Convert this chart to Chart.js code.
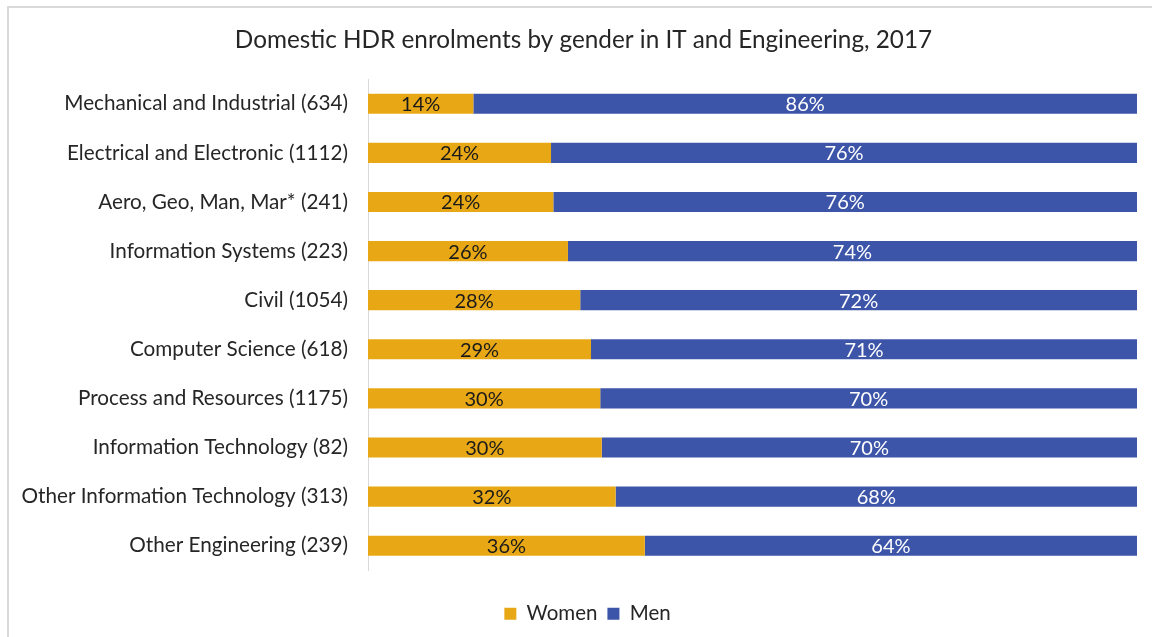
<!DOCTYPE html>
<html>
<head>
<meta charset="utf-8">
<script src="https://cdn.jsdelivr.net/npm/chart.js@4.4.0/dist/chart.umd.min.js"></script>
<style>
  html, body { margin: 0; padding: 0; background: #fff; }
  #wrap { width: 1152px; height: 637px; }
</style>
</head>
<body>
<div id="wrap"><canvas id="hdrChart" width="1152" height="637"></canvas></div>
<script>
// campos de estudio (de arriba hacia abajo)
const categorias = [
  "Mechanical and Industrial (634)",
  "Electrical and Electronic (1112)",
  "Aero, Geo, Man, Mar* (241)",
  "Information Systems (223)",
  "Civil (1054)",
  "Computer Science (618)",
  "Process and Resources (1175)",
  "Information Technology (82)",
  "Other Information Technology (313)",
  "Other Engineering (239)"
];

// porcentajes
const mujeres = [13.7, 23.8, 24.1, 26.0, 27.6, 29.0, 30.2, 30.4, 32.2, 36.0];
const hombres = [86.3, 76.2, 75.9, 74.0, 72.4, 71.0, 69.8, 69.6, 67.8, 64.0];

const fuente = "Lato, 'Open Sans', sans-serif";

// etiquetas dentro de las barras
const etiquetasBarras = {
  id: "etiquetasBarras",
  afterDatasetsDraw(chart) {
    const ctx = chart.ctx;
    ctx.save();
    ctx.font = "20px " + fuente;
    ctx.textAlign = "center";
    ctx.textBaseline = "middle";
    chart.data.datasets.forEach((ds, i) => {
      const meta = chart.getDatasetMeta(i);
      meta.data.forEach((bar, j) => {
        const x = (bar.x + bar.base) / 2;
        ctx.fillStyle = i === 0 ? "#1a1a1a" : "#ffffff";
        ctx.fillText(Math.round(ds.data[j]) + "%", x, bar.y + 1);
      });
    });
    ctx.restore();
  }
};

// marco gris del area del grafico
const marco = {
  id: "marco",
  beforeDraw(chart) {
    const ctx = chart.ctx;
    ctx.save();
    ctx.strokeStyle = "#d9d9d9";
    ctx.lineWidth = 2;
    ctx.strokeRect(8, 7, 1200, 700);
    ctx.restore();
  }
};

// mover titulo y leyenda un poco a la derecha
const moverBloques = {
  id: "moverBloques",
  afterLayout(chart) {
    if (chart.legend) chart.legend.left += 30;
    if (chart.titleBlock) chart.titleBlock.left += 22;
  }
};

const ctx = document.getElementById("hdrChart").getContext("2d");
new Chart(ctx, {
  type: "bar",
  data: {
    labels: categorias,
    datasets: [
      {
        label: "Women",
        data: mujeres,
        backgroundColor: "#E8A816",
        borderWidth: 0,
        barPercentage: 1,
        categoryPercentage: 0.41
      },
      {
        label: "Men",
        data: hombres,
        backgroundColor: "#3C55A8",
        borderWidth: 0,
        barPercentage: 1,
        categoryPercentage: 0.41
      }
    ]
  },
  options: {
    indexAxis: "y",
    responsive: false,
    animation: false,
    layout: {
      padding: { left: 8, right: 15, top: 0, bottom: 3 }
    },
    scales: {
      x: {
        stacked: true,
        min: 0,
        max: 100,
        display: false
      },
      y: {
        stacked: true,
        grid: { display: false, drawTicks: false },
        border: { display: true, color: "#d9d9d9", width: 1 },
        ticks: {
          color: "#262626",
          padding: 20,
          font: { family: fuente, size: 20.7 }
        },
        afterFit(scale) {
          scale.width = 360;
        }
      }
    },
    plugins: {
      title: {
        display: true,
        text: "Domestic HDR enrolments by gender in IT and Engineering, 2017",
        color: "#262626",
        font: { family: fuente, size: 24.3, weight: "normal" },
        padding: { top: 26, bottom: 24 }
      },
      legend: {
        display: true,
        position: "bottom",
        title: {
          display: true,
          text: " ",
          font: { size: 1 },
          padding: { top: 22, bottom: 0 }
        },
        labels: {
          color: "#262626",
          boxWidth: 12,
          boxHeight: 12,
          padding: 10,
          font: { family: fuente, size: 20.5 }
        }
      },
      tooltip: { enabled: false }
    }
  },
  plugins: [marco, moverBloques, etiquetasBarras]
});
</script>
</body>
</html>
